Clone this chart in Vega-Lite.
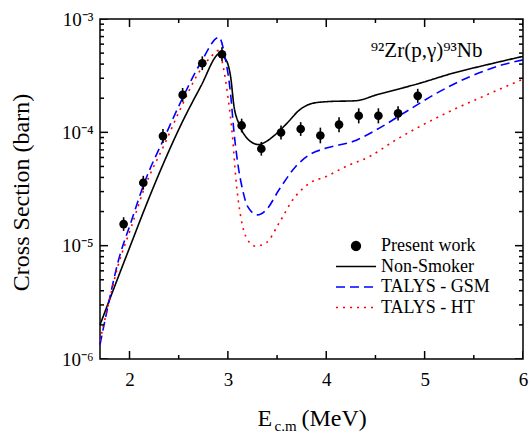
{
  "$schema": "https://vega.github.io/schema/vega-lite/v6.json",
  "width": 423,
  "height": 340,
  "autosize": {"type": "none"},
  "padding": {"left": 100, "top": 19, "right": 7, "bottom": 73},
  "background": "white",
  "config": {
    "view": {"stroke": "black", "strokeWidth": 1.5, "fill": null},
    "font": "Liberation Serif",
    "axis": {
      "domain": false,
      "ticks": false,
      "grid": false,
      "labelColor": "black",
      "titleColor": "black",
      "labelFont": "Liberation Serif",
      "titleFont": "Liberation Serif",
      "labelOverlap": false,
      "labelFlush": false,
      "labelBound": false,
      "titleFontWeight": "normal"
    }
  },
  "datasets": {
    "curves": [
      {"model": "Non-Smoker", "E": 1.70, "sigma": 2.0e-6},
      {"model": "Non-Smoker", "E": 1.85, "sigma": 4.4e-6},
      {"model": "Non-Smoker", "E": 2.02, "sigma": 1.06e-5},
      {"model": "Non-Smoker", "E": 2.15, "sigma": 2.07e-5},
      {"model": "Non-Smoker", "E": 2.36, "sigma": 5.7e-5},
      {"model": "Non-Smoker", "E": 2.53, "sigma": 1.2e-4},
      {"model": "Non-Smoker", "E": 2.73, "sigma": 2.6e-4},
      {"model": "Non-Smoker", "E": 2.90, "sigma": 4.9e-4},
      {"model": "Non-Smoker", "E": 2.93, "sigma": 5.05e-4},
      {"model": "Non-Smoker", "E": 2.97, "sigma": 4.5e-4},
      {"model": "Non-Smoker", "E": 3.00, "sigma": 4.0e-4},
      {"model": "Non-Smoker", "E": 3.03, "sigma": 3.0e-4},
      {"model": "Non-Smoker", "E": 3.06, "sigma": 1.75e-4},
      {"model": "Non-Smoker", "E": 3.11, "sigma": 1.2e-4},
      {"model": "Non-Smoker", "E": 3.18, "sigma": 9.2e-5},
      {"model": "Non-Smoker", "E": 3.25, "sigma": 8.1e-5},
      {"model": "Non-Smoker", "E": 3.31, "sigma": 7.8e-5},
      {"model": "Non-Smoker", "E": 3.38, "sigma": 8.2e-5},
      {"model": "Non-Smoker", "E": 3.46, "sigma": 9.2e-5},
      {"model": "Non-Smoker", "E": 3.60, "sigma": 1.2e-4},
      {"model": "Non-Smoker", "E": 3.73, "sigma": 1.58e-4},
      {"model": "Non-Smoker", "E": 3.87, "sigma": 1.81e-4},
      {"model": "Non-Smoker", "E": 4.03, "sigma": 1.87e-4},
      {"model": "Non-Smoker", "E": 4.30, "sigma": 1.9e-4},
      {"model": "Non-Smoker", "E": 4.51, "sigma": 2.14e-4},
      {"model": "Non-Smoker", "E": 4.95, "sigma": 2.71e-4},
      {"model": "Non-Smoker", "E": 5.29, "sigma": 3.33e-4},
      {"model": "Non-Smoker", "E": 5.63, "sigma": 3.94e-4},
      {"model": "Non-Smoker", "E": 6.00, "sigma": 4.68e-4},
      {"model": "TALYS - GSM", "E": 1.70, "sigma": 1.34e-6},
      {"model": "TALYS - GSM", "E": 1.78, "sigma": 2.9e-6},
      {"model": "TALYS - GSM", "E": 1.88, "sigma": 7.0e-6},
      {"model": "TALYS - GSM", "E": 2.02, "sigma": 1.66e-5},
      {"model": "TALYS - GSM", "E": 2.15, "sigma": 3.56e-5},
      {"model": "TALYS - GSM", "E": 2.36, "sigma": 9.2e-5},
      {"model": "TALYS - GSM", "E": 2.53, "sigma": 1.93e-4},
      {"model": "TALYS - GSM", "E": 2.73, "sigma": 4.2e-4},
      {"model": "TALYS - GSM", "E": 2.91, "sigma": 6.9e-4},
      {"model": "TALYS - GSM", "E": 2.97, "sigma": 4.66e-4},
      {"model": "TALYS - GSM", "E": 3.03, "sigma": 2.07e-4},
      {"model": "TALYS - GSM", "E": 3.06, "sigma": 1.05e-4},
      {"model": "TALYS - GSM", "E": 3.10, "sigma": 5.36e-5},
      {"model": "TALYS - GSM", "E": 3.15, "sigma": 3.11e-5},
      {"model": "TALYS - GSM", "E": 3.20, "sigma": 2.22e-5},
      {"model": "TALYS - GSM", "E": 3.30, "sigma": 1.87e-5},
      {"model": "TALYS - GSM", "E": 3.39, "sigma": 2.07e-5},
      {"model": "TALYS - GSM", "E": 3.52, "sigma": 3.11e-5},
      {"model": "TALYS - GSM", "E": 3.69, "sigma": 5.0e-5},
      {"model": "TALYS - GSM", "E": 3.83, "sigma": 6.34e-5},
      {"model": "TALYS - GSM", "E": 4.00, "sigma": 7.26e-5},
      {"model": "TALYS - GSM", "E": 4.27, "sigma": 8.3e-5},
      {"model": "TALYS - GSM", "E": 4.54, "sigma": 1.09e-4},
      {"model": "TALYS - GSM", "E": 4.81, "sigma": 1.52e-4},
      {"model": "TALYS - GSM", "E": 5.12, "sigma": 2.21e-4},
      {"model": "TALYS - GSM", "E": 5.46, "sigma": 3.1e-4},
      {"model": "TALYS - GSM", "E": 5.79, "sigma": 3.94e-4},
      {"model": "TALYS - GSM", "E": 6.00, "sigma": 4.36e-4},
      {"model": "TALYS - HT", "E": 1.70, "sigma": 1.45e-6},
      {"model": "TALYS - HT", "E": 1.78, "sigma": 2.9e-6},
      {"model": "TALYS - HT", "E": 1.88, "sigma": 6.5e-6},
      {"model": "TALYS - HT", "E": 2.02, "sigma": 1.48e-5},
      {"model": "TALYS - HT", "E": 2.15, "sigma": 3.2e-5},
      {"model": "TALYS - HT", "E": 2.36, "sigma": 8.0e-5},
      {"model": "TALYS - HT", "E": 2.53, "sigma": 1.7e-4},
      {"model": "TALYS - HT", "E": 2.70, "sigma": 3.33e-4},
      {"model": "TALYS - HT", "E": 2.83, "sigma": 4.66e-4},
      {"model": "TALYS - HT", "E": 2.91, "sigma": 5.3e-4},
      {"model": "TALYS - HT", "E": 2.95, "sigma": 3.9e-4},
      {"model": "TALYS - HT", "E": 3.00, "sigma": 2.07e-4},
      {"model": "TALYS - HT", "E": 3.05, "sigma": 8.6e-5},
      {"model": "TALYS - HT", "E": 3.08, "sigma": 4.0e-5},
      {"model": "TALYS - HT", "E": 3.13, "sigma": 1.81e-5},
      {"model": "TALYS - HT", "E": 3.20, "sigma": 1.13e-5},
      {"model": "TALYS - HT", "E": 3.28, "sigma": 9.9e-6},
      {"model": "TALYS - HT", "E": 3.39, "sigma": 1.06e-5},
      {"model": "TALYS - HT", "E": 3.52, "sigma": 1.58e-5},
      {"model": "TALYS - HT", "E": 3.66, "sigma": 2.54e-5},
      {"model": "TALYS - HT", "E": 3.83, "sigma": 3.56e-5},
      {"model": "TALYS - HT", "E": 4.00, "sigma": 4.08e-5},
      {"model": "TALYS - HT", "E": 4.20, "sigma": 5.0e-5},
      {"model": "TALYS - HT", "E": 4.44, "sigma": 6.12e-5},
      {"model": "TALYS - HT", "E": 4.71, "sigma": 8.6e-5},
      {"model": "TALYS - HT", "E": 4.95, "sigma": 1.125e-4},
      {"model": "TALYS - HT", "E": 5.29, "sigma": 1.58e-4},
      {"model": "TALYS - HT", "E": 5.63, "sigma": 2.14e-4},
      {"model": "TALYS - HT", "E": 6.00, "sigma": 2.95e-4}
    ],
    "points": [
      {"series": "Present work", "E": 1.94, "sigma": 1.55e-5, "lo": 1.35e-5, "hi": 1.78e-5},
      {"series": "Present work", "E": 2.14, "sigma": 3.59e-5, "lo": 3.12e-5, "hi": 4.13e-5},
      {"series": "Present work", "E": 2.34, "sigma": 9.27e-5, "lo": 8.06e-5, "hi": 1.07e-4},
      {"series": "Present work", "E": 2.54, "sigma": 2.14e-4, "lo": 1.86e-4, "hi": 2.46e-4},
      {"series": "Present work", "E": 2.74, "sigma": 4.07e-4, "lo": 3.54e-4, "hi": 4.68e-4},
      {"series": "Present work", "E": 2.94, "sigma": 4.89e-4, "lo": 4.25e-4, "hi": 5.62e-4},
      {"series": "Present work", "E": 3.14, "sigma": 1.15e-4, "lo": 1.0e-4, "hi": 1.32e-4},
      {"series": "Present work", "E": 3.34, "sigma": 7.16e-5, "lo": 6.23e-5, "hi": 8.23e-5},
      {"series": "Present work", "E": 3.54, "sigma": 9.96e-5, "lo": 8.66e-5, "hi": 1.15e-4},
      {"series": "Present work", "E": 3.74, "sigma": 1.07e-4, "lo": 9.3e-5, "hi": 1.23e-4},
      {"series": "Present work", "E": 3.94, "sigma": 9.37e-5, "lo": 8.0e-5, "hi": 1.1e-4},
      {"series": "Present work", "E": 4.13, "sigma": 1.17e-4, "lo": 1.0e-4, "hi": 1.36e-4},
      {"series": "Present work", "E": 4.33, "sigma": 1.4e-4, "lo": 1.2e-4, "hi": 1.63e-4},
      {"series": "Present work", "E": 4.53, "sigma": 1.4e-4, "lo": 1.2e-4, "hi": 1.63e-4},
      {"series": "Present work", "E": 4.73, "sigma": 1.47e-4, "lo": 1.27e-4, "hi": 1.7e-4},
      {"series": "Present work", "E": 4.93, "sigma": 2.1e-4, "lo": 1.82e-4, "hi": 2.42e-4}
    ],
    "label": [
      {"E": 5.02, "sigma": 4.62e-4, "text": "⁹²Zr(p,γ)⁹³Nb"}
    ],
    "xticks": [
      {"v": 2, "k": "major"}, {"v": 2.5, "k": "minor"}, {"v": 3, "k": "major"}, {"v": 3.5, "k": "minor"},
      {"v": 4, "k": "major"}, {"v": 4.5, "k": "minor"}, {"v": 5, "k": "major"}, {"v": 5.5, "k": "minor"},
      {"v": 6, "k": "major"}
    ],
    "yticks": [
      {"v": 1e-6, "k": "major"}, {"v": 2e-6, "k": "minor"}, {"v": 3e-6, "k": "minor"}, {"v": 4e-6, "k": "minor"},
      {"v": 5e-6, "k": "minor"}, {"v": 6e-6, "k": "minor"}, {"v": 7e-6, "k": "minor"}, {"v": 8e-6, "k": "minor"},
      {"v": 9e-6, "k": "minor"}, {"v": 1e-5, "k": "major"}, {"v": 2e-5, "k": "minor"}, {"v": 3e-5, "k": "minor"},
      {"v": 4e-5, "k": "minor"}, {"v": 5e-5, "k": "minor"}, {"v": 6e-5, "k": "minor"}, {"v": 7e-5, "k": "minor"},
      {"v": 8e-5, "k": "minor"}, {"v": 9e-5, "k": "minor"}, {"v": 1e-4, "k": "major"}, {"v": 2e-4, "k": "minor"},
      {"v": 3e-4, "k": "minor"}, {"v": 4e-4, "k": "minor"}, {"v": 5e-4, "k": "minor"}, {"v": 6e-4, "k": "minor"},
      {"v": 7e-4, "k": "minor"}, {"v": 8e-4, "k": "minor"}, {"v": 9e-4, "k": "minor"}, {"v": 1e-3, "k": "major"}
    ]
  },
  "layer": [
    {
      "data": {"name": "curves"},
      "mark": {"type": "line", "interpolate": "monotone", "strokeWidth": 1.6},
      "encoding": {
        "x": {
          "field": "E", "type": "quantitative",
          "scale": {"domain": [1.7, 6], "nice": false, "zero": false},
          "axis": {
            "orient": "bottom",
            "values": [2, 3, 4, 5, 6],
            "format": "d",
            "labelPadding": 11,
            "labelFontSize": 19,
            "title": "E",
            "titleFontSize": 24,
            "titleAlign": "left",
            "titleAnchor": "start",
            "titleBaseline": "alphabetic",
            "titleX": 157,
            "titleY": 66
          }
        },
        "y": {
          "field": "sigma", "type": "quantitative",
          "scale": {"type": "log", "domain": [1e-6, 1e-3], "nice": false},
          "axis": {
            "orient": "left",
            "values": [1e-6, 1e-5, 1e-4, 1e-3],
            "labelExpr": "['10⁻⁶','10⁻⁵','10⁻⁴','10⁻³'][round(log(datum.value)/LN10) + 6]",
            "labelPadding": 7,
            "labelFontSize": 19,
            "title": "Cross Section (barn)",
            "titleFontSize": 24,
            "titleBaseline": "alphabetic",
            "titleX": -72,
            "titleY": 173
          }
        },
        "color": {
          "field": "model", "type": "nominal",
          "scale": {"domain": ["Present work", "Non-Smoker", "TALYS - GSM", "TALYS - HT"], "range": ["black", "black", "#0000ff", "#ff0000"]},
          "legend": {
            "orient": "none",
            "legendX": 247,
            "legendY": 218,
            "title": null,
            "labelFont": "Liberation Serif",
            "labelFontSize": 18,
            "labelColor": "black",
            "symbolType": "M-4,0H4",
            "symbolSize": 100,
            "symbolStrokeWidth": 1.6,
            "labelOffset": 16,
            "rowPadding": 2.5,
            "encode": {
              "symbols": {
                "update": {
                  "shape": {"signal": "datum.value === 'Present work' ? 'circle' : 'M-4,0H4'"},
                  "size": {"signal": "datum.value === 'Present work' ? 75 : 100"},
                  "fill": {"signal": "datum.value === 'Present work' ? 'black' : 'transparent'"},
                  "stroke": {"signal": "datum.value === 'TALYS - GSM' ? '#0000ff' : (datum.value === 'TALYS - HT' ? '#ff0000' : 'black')"},
                  "strokeDash": {"signal": "datum.value === 'TALYS - GSM' ? [9, 5] : (datum.value === 'TALYS - HT' ? [2, 5] : [1, 0])"},
                  "strokeWidth": {"value": 1.6},
                  "opacity": {"value": 1}
                }
              }
            }
          }
        },
        "strokeDash": {
          "field": "model", "type": "nominal",
          "scale": {"domain": ["Non-Smoker", "TALYS - GSM", "TALYS - HT"], "range": [[1, 0], [9, 5], [2, 5]]},
          "legend": null
        }
      }
    },
    {
      "data": {"name": "points"},
      "mark": {"type": "rule", "color": "black", "strokeWidth": 1.6},
      "encoding": {
        "x": {
          "field": "E", "type": "quantitative",
          "scale": {"domain": [1.7, 6], "nice": false, "zero": false},
          "axis": {
            "orient": "bottom",
            "labels": false,
            "title": "(MeV)",
            "titleFontSize": 24,
            "titleAlign": "left",
            "titleAnchor": "start",
            "titleBaseline": "alphabetic",
            "titleX": 201,
            "titleY": 66
          }
        },
        "y": {
          "field": "lo", "type": "quantitative",
          "scale": {"type": "log", "domain": [1e-6, 1e-3], "nice": false},
          "axis": null
        },
        "y2": {"field": "hi"}
      }
    },
    {
      "data": {"name": "points"},
      "mark": {"type": "point", "filled": true, "opacity": 1, "size": 75},
      "encoding": {
        "x": {
          "field": "E", "type": "quantitative",
          "scale": {"domain": [1.7, 6], "nice": false, "zero": false},
          "axis": {
            "orient": "bottom",
            "labels": false,
            "title": "c.m",
            "titleFontSize": 15,
            "titleAlign": "left",
            "titleAnchor": "start",
            "titleBaseline": "alphabetic",
            "titleX": 174,
            "titleY": 71
          }
        },
        "y": {
          "field": "sigma", "type": "quantitative",
          "scale": {"type": "log", "domain": [1e-6, 1e-3], "nice": false},
          "axis": null
        },
        "color": {"field": "series", "type": "nominal"}
      }
    },
    {
      "data": {"name": "label"},
      "mark": {"type": "text", "font": "Liberation Serif", "fontSize": 21, "color": "black", "align": "center", "baseline": "alphabetic"},
      "encoding": {
        "x": {"field": "E", "type": "quantitative", "scale": {"domain": [1.7, 6], "nice": false, "zero": false}, "axis": null},
        "y": {"field": "sigma", "type": "quantitative", "scale": {"type": "log", "domain": [1e-6, 1e-3], "nice": false}, "axis": null},
        "text": {"field": "text"}
      }
    },
    {
      "data": {"name": "xticks"},
      "mark": {"type": "tick", "orient": "vertical", "clip": true, "color": "black", "thickness": 1.5, "opacity": 1},
      "encoding": {
        "x": {"field": "v", "type": "quantitative", "scale": {"domain": [1.7, 6], "nice": false, "zero": false}, "axis": null},
        "y": {"datum": 1e-6, "type": "quantitative", "scale": {"type": "log", "domain": [1e-6, 1e-3], "nice": false}, "axis": null},
        "size": {"field": "k", "type": "nominal", "scale": {"domain": ["major", "minor"], "range": [16, 8]}, "legend": null}
      }
    },
    {
      "data": {"name": "xticks"},
      "mark": {"type": "tick", "orient": "vertical", "clip": true, "color": "black", "thickness": 1.5, "opacity": 1},
      "encoding": {
        "x": {"field": "v", "type": "quantitative", "scale": {"domain": [1.7, 6], "nice": false, "zero": false}, "axis": null},
        "y": {"datum": 1e-3, "type": "quantitative", "scale": {"type": "log", "domain": [1e-6, 1e-3], "nice": false}, "axis": null},
        "size": {"field": "k", "type": "nominal", "scale": {"domain": ["major", "minor"], "range": [16, 8]}, "legend": null}
      }
    },
    {
      "data": {"name": "yticks"},
      "mark": {"type": "tick", "orient": "horizontal", "clip": true, "color": "black", "thickness": 1.5, "opacity": 1},
      "encoding": {
        "x": {"datum": 1.7, "type": "quantitative", "scale": {"domain": [1.7, 6], "nice": false, "zero": false}, "axis": null},
        "y": {"field": "v", "type": "quantitative", "scale": {"type": "log", "domain": [1e-6, 1e-3], "nice": false}, "axis": null},
        "size": {"field": "k", "type": "nominal", "scale": {"domain": ["major", "minor"], "range": [16, 8]}, "legend": null}
      }
    },
    {
      "data": {"name": "yticks"},
      "mark": {"type": "tick", "orient": "horizontal", "clip": true, "color": "black", "thickness": 1.5, "opacity": 1},
      "encoding": {
        "x": {"datum": 6, "type": "quantitative", "scale": {"domain": [1.7, 6], "nice": false, "zero": false}, "axis": null},
        "y": {"field": "v", "type": "quantitative", "scale": {"type": "log", "domain": [1e-6, 1e-3], "nice": false}, "axis": null},
        "size": {"field": "k", "type": "nominal", "scale": {"domain": ["major", "minor"], "range": [16, 8]}, "legend": null}
      }
    }
  ],
  "resolve": {"axis": {"x": "independent", "y": "independent"}}
}
